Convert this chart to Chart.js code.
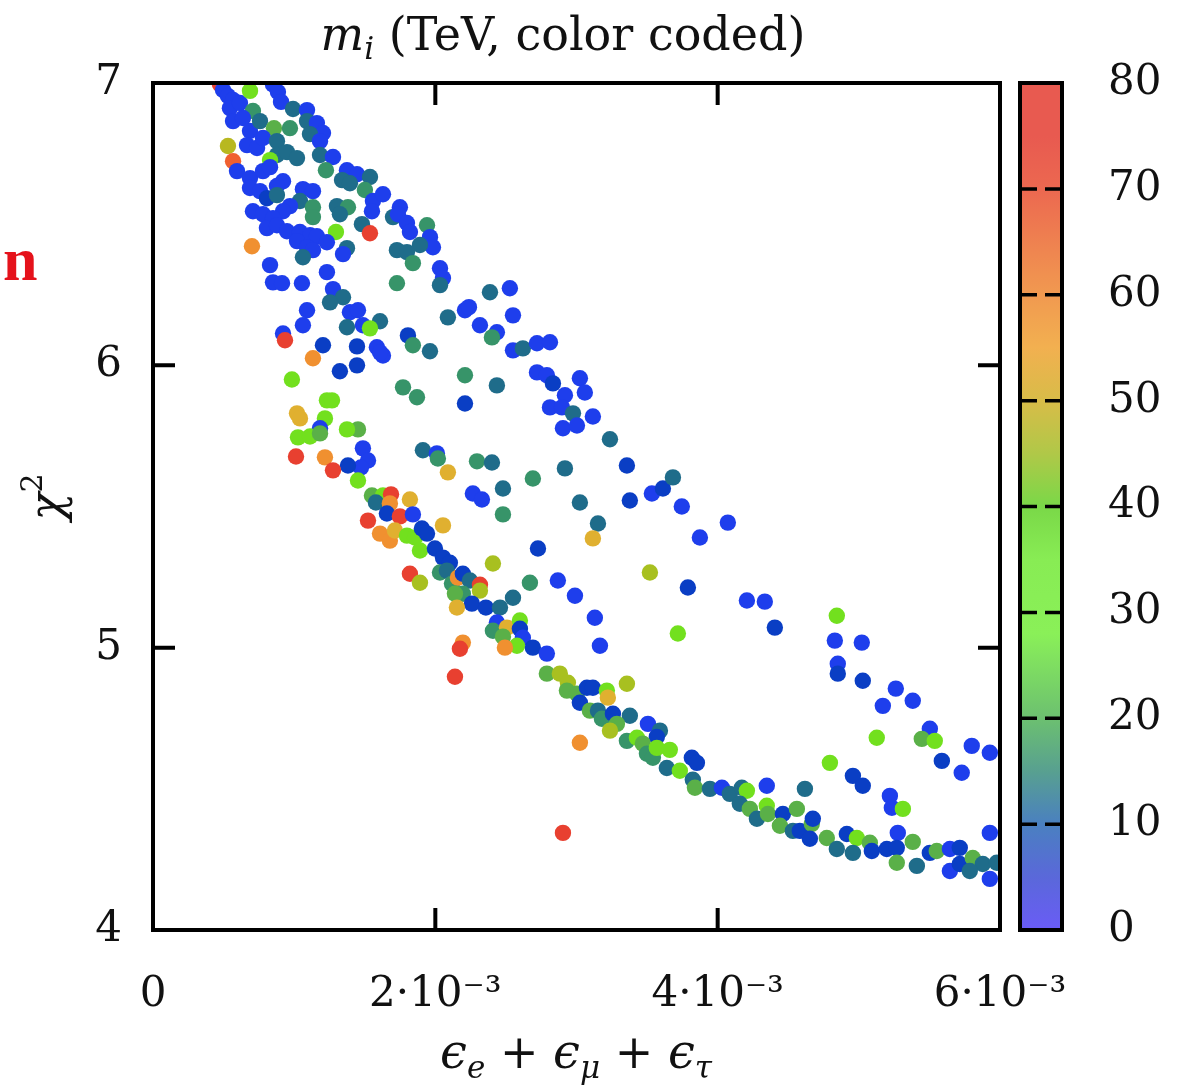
<!DOCTYPE html>
<html>
<head>
<meta charset="utf-8">
<script src="https://cdn.jsdelivr.net/npm/chart.js@4/dist/chart.umd.min.js"></script>
<style>
  html, body { margin: 0; padding: 0; background: #fff; }
</style>
</head>
<body>
<canvas id="chart" width="1178" height="1090"></canvas>
<script>
// epsilon_e + epsilon_mu + epsilon_tau, in units of 10^-3
const epsSum = [
  0.474, 0.496, 0.531, 0.567, 0.545, 0.616, 0.687, 0.850, 0.885, 0.907,
  0.708, 0.567, 0.637, 0.687, 0.758, 0.857, 0.970, 0.992, 1.091, 1.091,
  1.161, 1.204, 1.112, 0.531, 0.567, 0.666, 0.737, 0.779, 0.878, 0.878,
  0.949, 1.020, 0.829, 1.183, 1.183, 1.275, 1.225, 1.374, 1.445, 1.537,
  1.339, 1.395, 1.501, 0.595, 0.687, 0.779, 0.829, 0.921, 0.878, 0.687,
  0.758, 0.807, 0.878, 1.062, 1.133, 1.041, 1.133, 1.133, 0.970, 0.921,
  0.708, 0.779, 0.850, 1.303, 1.381, 1.324, 1.480, 1.296, 0.807, 0.878,
  0.949, 1.041, 1.112, 1.020, 1.161, 1.232, 0.701, 1.537, 1.558, 1.551,
  1.629, 1.700, 1.749, 1.735, 1.799, 1.820, 1.941, 1.962, 1.983, 1.891,
  1.728, 1.799, 1.841, 1.091, 1.133, 1.062, 1.374, 1.346, 2.033, 2.054,
  2.033, 1.728, 1.232, 0.829, 0.850, 0.914, 1.055, 1.275, 1.346, 1.254,
  1.091, 1.062, 1.395, 1.452, 1.487, 1.374, 1.608, 1.537, 0.921, 0.935,
  1.204, 1.445, 1.586, 1.629, 1.608, 1.806, 1.841, 1.962, 2.089, 1.133,
  1.324, 1.445, 0.984, 2.210, 2.238, 2.387, 2.528, 2.316, 2.436, 2.401,
  2.550, 2.550, 2.620, 2.720, 2.812, 2.210, 2.436, 1.771, 1.870, 2.210,
  2.720, 2.790, 2.833, 3.024, 3.059, 2.918, 2.812, 2.897, 2.975, 3.116,
  2.904, 3.003, 3.237, 1.452, 1.232, 1.268, 1.020, 1.041, 1.218, 1.183,
  1.027, 1.112, 1.183, 1.374, 1.487, 1.523, 1.473, 1.381, 1.452, 1.013,
  1.218, 1.275, 1.912, 2.011, 2.018, 2.089, 2.295, 2.401, 2.266, 2.330,
  2.479, 2.479, 1.551, 1.629, 1.686, 1.579, 1.678, 1.820, 1.657, 1.749,
  1.841, 1.523, 1.608, 1.678, 1.714, 1.799, 1.856, 1.891, 1.905, 1.941,
  2.054, 1.997, 2.054, 2.103, 2.033, 2.082, 2.118, 1.820, 1.891, 2.160,
  2.195, 2.245, 2.316, 2.316, 2.195, 2.139, 2.408, 2.259, 2.358, 2.458,
  2.550, 2.153, 2.670, 2.868, 2.989, 3.130, 3.166, 3.520, 3.789, 3.718,
  2.436, 2.408, 2.507, 2.599, 2.599, 2.620, 2.578, 2.479, 2.493, 2.195,
  2.174, 2.139, 2.691, 2.790, 2.790, 2.882, 2.939, 2.932, 3.003, 3.074,
  3.116, 3.215, 3.222, 3.357, 3.024, 3.095, 3.152, 3.180, 3.258, 3.378,
  3.286, 3.237, 3.024, 3.506, 3.591, 3.569, 3.357, 3.428, 3.470, 3.499,
  3.541, 3.569, 3.661, 3.640, 3.732, 3.817, 3.853, 3.824, 3.839, 2.904,
  3.945, 4.030, 4.086, 4.171, 4.207, 4.157, 4.228, 4.278, 4.348, 4.356,
  4.462, 4.441, 4.561, 4.533, 4.582, 4.667, 4.674, 4.653, 4.773, 4.915,
  4.986, 4.844, 4.958, 5.078, 5.092, 5.198, 5.276, 5.269, 5.269, 5.382,
  5.411, 5.503, 5.552, 5.645, 5.715, 5.645, 5.715, 5.807, 5.878, 5.928,
  5.786, 5.977, 4.348, 4.618, 2.691, 2.918, 3.357, 3.024, 3.152, 3.378,
  3.534, 3.612, 3.683, 3.746, 3.874, 4.072, 3.116, 2.727, 4.207, 4.334,
  4.405, 4.844, 4.830, 5.021, 4.851, 4.851, 5.028, 5.262, 5.170, 5.382,
  5.503, 5.446, 5.538, 5.127, 5.588, 5.729, 5.800, 5.928, 4.795, 4.958,
  5.028, 5.220, 5.234, 5.312, 5.928
];

// chi^2
const chiSq = [
  6.996, 6.975, 6.954, 6.940, 6.911, 6.929, 6.972, 6.995, 6.968, 6.933,
  6.901, 6.865, 6.876, 6.830, 6.865, 6.840, 6.840, 6.908, 6.904, 6.865,
  6.858, 6.823, 6.819, 6.777, 6.723, 6.780, 6.770, 6.805, 6.794, 6.745,
  6.755, 6.734, 6.727, 6.794, 6.745, 6.738, 6.691, 6.691, 6.677, 6.667,
  6.656, 6.645, 6.621, 6.688, 6.663, 6.688, 6.702, 6.652, 6.635, 6.628,
  6.617, 6.592, 6.603, 6.624, 6.617, 6.582, 6.560, 6.525, 6.564, 6.546,
  6.546, 6.535, 6.521, 6.564, 6.560, 6.535, 6.500, 6.472, 6.486, 6.496,
  6.475, 6.472, 6.461, 6.440, 6.457, 6.436, 6.422, 6.468, 6.582, 6.546,
  6.606, 6.525, 6.560, 6.535, 6.504, 6.472, 6.496, 6.454, 6.418, 6.426,
  6.408, 6.401, 6.362, 6.418, 6.408, 6.383, 6.415, 6.394, 6.344, 6.309,
  6.284, 6.291, 6.330, 6.355, 6.294, 6.291, 6.291, 6.270, 6.241, 6.223,
  6.195, 6.142, 6.188, 6.195, 6.142, 6.135, 6.156, 6.131, 6.113, 6.089,
  6.071, 6.067, 6.064, 6.035, 6.046, 6.106, 6.071, 6.050, 6.170, 6.025,
  5.979, 6.000, 5.950, 6.195, 6.206, 6.259, 6.273, 6.142, 6.117, 6.099,
  6.177, 6.053, 6.060, 6.078, 6.082, 5.965, 5.929, 5.922, 5.887, 5.865,
  5.975, 5.965, 5.936, 5.954, 5.904, 5.894, 5.851, 5.851, 5.830, 5.819,
  5.777, 5.787, 5.738, 5.773, 5.876, 5.876, 5.830, 5.812, 5.812, 5.777,
  5.745, 5.748, 5.759, 5.773, 5.706, 5.663, 5.638, 5.645, 5.592, 5.677,
  5.674, 5.628, 5.699, 5.688, 5.670, 5.621, 5.660, 5.656, 5.546, 5.525,
  5.564, 5.472, 5.539, 5.539, 5.543, 5.514, 5.511, 5.525, 5.475, 5.465,
  5.472, 5.450, 5.404, 5.379, 5.415, 5.397, 5.390, 5.344, 5.422, 5.404,
  5.433, 5.351, 5.319, 5.301, 5.266, 5.273, 5.227, 5.262, 5.230, 5.248,
  5.262, 5.238, 5.223, 5.202, 5.191, 5.191, 5.298, 5.156, 5.142, 5.142,
  5.177, 5.142, 5.230, 5.238, 5.184, 5.106, 5.007, 5.266, 5.213, 5.050,
  5.089, 5.060, 5.071, 5.096, 5.067, 5.035, 5.007, 5.039, 5.000, 5.018,
  4.996, 4.897, 5.000, 4.979, 4.908, 4.908, 4.876, 4.848, 4.837, 4.858,
  4.858, 4.848, 4.823, 4.872, 4.805, 4.777, 4.777, 4.748, 4.766, 4.759,
  4.730, 4.706, 4.663, 4.730, 4.706, 4.684, 4.670, 4.681, 4.660, 4.624,
  4.610, 4.645, 4.638, 4.574, 4.564, 4.610, 4.592, 4.532, 4.504, 4.344,
  4.500, 4.504, 4.482, 4.504, 4.493, 4.447, 4.429, 4.394, 4.440, 4.411,
  4.411, 4.369, 4.429, 4.351, 4.351, 4.376, 4.394, 4.323, 4.326, 4.340,
  4.326, 4.287, 4.273, 4.309, 4.280, 4.287, 4.344, 4.291, 4.238, 4.312,
  4.227, 4.273, 4.280, 4.287, 4.291, 4.209, 4.234, 4.255, 4.234, 4.181,
  4.209, 4.238, 4.511, 4.500, 5.599, 5.635, 5.645, 5.514, 5.440, 5.521,
  5.546, 5.564, 5.603, 5.500, 5.390, 5.443, 5.387, 5.351, 5.167, 5.163,
  5.071, 5.113, 5.025, 5.018, 4.943, 4.908, 4.883, 4.855, 4.794, 4.812,
  4.713, 4.677, 4.670, 4.681, 4.599, 4.557, 4.652, 4.628, 4.592, 4.546,
  4.511, 4.475, 4.433, 4.429, 4.344
];

// m_i in TeV (colour coded)
const massTeV = [
  74, 3, 3, 3, 3, 3, 30, 3, 3, 3,
  16, 3, 3, 3, 11, 22, 16, 11, 3, 11,
  3, 3, 11, 45, 66, 3, 3, 3, 11, 11,
  11, 11, 30, 3, 11, 3, 16, 3, 3, 11,
  11, 11, 16, 3, 3, 3, 3, 3, 3, 3,
  3, 6, 11, 3, 3, 11, 16, 16, 3, 3,
  3, 3, 3, 11, 16, 11, 11, 30, 3, 3,
  3, 3, 3, 3, 3, 3, 58, 74, 3, 3,
  3, 11, 3, 3, 3, 3, 16, 3, 3, 11,
  11, 11, 16, 3, 3, 11, 11, 3, 3, 3,
  11, 16, 3, 3, 3, 3, 3, 3, 11, 11,
  3, 3, 3, 3, 3, 11, 11, 30, 3, 74,
  6, 6, 3, 3, 3, 6, 16, 11, 11, 58,
  6, 6, 30, 3, 3, 11, 3, 3, 3, 16,
  3, 3, 11, 3, 3, 16, 11, 16, 16, 6,
  3, 3, 6, 3, 3, 3, 3, 3, 11, 3,
  3, 3, 11, 22, 30, 30, 50, 50, 30, 3,
  30, 30, 22, 30, 3, 3, 3, 6, 30, 74,
  58, 74, 11, 3, 16, 50, 16, 11, 3, 3,
  11, 16, 22, 30, 74, 11, 58, 50, 6, 74,
  3, 74, 58, 58, 50, 30, 30, 30, 6, 6,
  50, 6, 6, 6, 16, 11, 16, 74, 42, 58,
  6, 11, 74, 42, 16, 22, 42, 6, 6, 11,
  11, 50, 16, 3, 3, 3, 3, 42, 6, 30,
  3, 16, 50, 30, 6, 3, 30, 22, 58, 58,
  74, 74, 6, 3, 22, 42, 42, 22, 22, 6,
  6, 30, 50, 42, 6, 22, 11, 16, 6, 11,
  22, 42, 58, 3, 11, 6, 16, 30, 22, 16,
  16, 30, 30, 11, 30, 6, 6, 11, 22, 74,
  11, 3, 11, 11, 30, 11, 22, 11, 30, 22,
  6, 22, 22, 11, 6, 22, 6, 6, 22, 6,
  30, 11, 11, 22, 6, 6, 3, 6, 22, 22,
  11, 6, 22, 3, 6, 3, 6, 22, 11, 3,
  11, 11, 3, 11, 16, 11, 6, 11, 11, 6,
  3, 6, 11, 3, 3, 3, 50, 6, 3, 3,
  6, 30, 3, 3, 3, 6, 6, 3, 3, 3,
  3, 22, 30, 30, 6, 3, 3, 3, 30, 6,
  6, 3, 3, 30, 3
];

const xTickValues = [0, 2, 4, 6];
const yTickValues = [4, 5, 6, 7];
const massTicks = [0, 10, 20, 30, 40, 50, 60, 70, 80];

// colours of the dots, by mass
const dotStops = [
  [0, [50, 70, 250]], [3, [30, 62, 236]], [6, [10, 62, 196]],
  [11, [31, 108, 138]], [16, [55, 148, 105]], [22, [90, 176, 72]],
  [30, [114, 224, 30]], [42, [168, 192, 32]], [45, [184, 184, 32]],
  [50, [224, 176, 48]], [58, [240, 144, 48]], [66, [240, 96, 48]],
  [74, [232, 64, 48]], [80, [230, 60, 50]]
];

// colours of the colour bar (paler)
const barStops = [
  [0, '#6a5cf6'], [5, '#5a68da'], [10, '#4a80c0'], [15, '#58a090'],
  [20, '#6cc070'], [28, '#8af058'], [35, '#88ec54'], [40, '#7ad848'],
  [45, '#b0c848'], [50, '#d8bc48'], [55, '#f2b050'], [62, '#f09050'],
  [70, '#ec6850'], [75, '#e85a50'], [80, '#e85a50']
];

function massColor(m) {
  for (let i = 1; i < dotStops.length; i++) {
    if (m <= dotStops[i][0]) {
      const [m0, c0] = dotStops[i - 1];
      const [m1, c1] = dotStops[i];
      const t = (m - m0) / (m1 - m0);
      const c = c0.map((v, k) => Math.round(v + (c1[k] - v) * t));
      return `rgb(${c[0]},${c[1]},${c[2]})`;
    }
  }
  const c = dotStops[dotStops.length - 1][1];
  return `rgb(${c[0]},${c[1]},${c[2]})`;
}

const serif = '"DejaVu Serif", serif';

// draw text pieces [text, font, dy] left to right, centred on cx
function drawPieces(ctx, pieces, cx, y) {
  let total = 0;
  pieces.forEach(p => { ctx.font = p[1]; total += ctx.measureText(p[0]).width; });
  let x = cx - total / 2;
  pieces.forEach(p => {
    ctx.font = p[1];
    ctx.fillText(p[0], x, y + (p[2] || 0));
    x += ctx.measureText(p[0]).width;
  });
}

const framePlugin = {
  id: 'frame',
  afterDatasetsDraw(chart) {
    const { ctx, chartArea: a, scales } = chart;
    const xs = scales.x, ys = scales.y, cb = scales.cb;
    ctx.save();
    ctx.strokeStyle = '#000';
    ctx.lineWidth = 4;
    ctx.strokeRect(a.left, a.top, a.right - a.left, a.bottom - a.top);

    // inward ticks on all four sides
    const tl = 22;
    ctx.beginPath();
    xTickValues.slice(1, -1).forEach(v => {
      const px = xs.getPixelForValue(v);
      ctx.moveTo(px, a.bottom); ctx.lineTo(px, a.bottom - tl);
      ctx.moveTo(px, a.top); ctx.lineTo(px, a.top + tl);
    });
    yTickValues.slice(1, -1).forEach(v => {
      const py = ys.getPixelForValue(v);
      ctx.moveTo(a.left, py); ctx.lineTo(a.left + tl, py);
      ctx.moveTo(a.right, py); ctx.lineTo(a.right - tl, py);
    });
    ctx.stroke();

    // colour bar
    const cbL = a.right + 20, cbR = a.right + 62;
    const top = cb.getPixelForValue(80), bot = cb.getPixelForValue(0);
    const g = ctx.createLinearGradient(0, bot, 0, top);
    barStops.forEach(([m, c]) => g.addColorStop(m / 80, c));
    ctx.fillStyle = g;
    ctx.fillRect(cbL, top, cbR - cbL, bot - top);
    ctx.lineWidth = 4;
    ctx.strokeRect(cbL, top, cbR - cbL, bot - top);
    ctx.lineWidth = 3.5;
    ctx.beginPath();
    massTicks.slice(1, -1).forEach(v => {
      const py = cb.getPixelForValue(v);
      ctx.moveTo(cbL, py); ctx.lineTo(cbL + 17, py);
      ctx.moveTo(cbR - 17, py); ctx.lineTo(cbR, py);
    });
    ctx.stroke();

    // texts
    ctx.fillStyle = '#111';
    ctx.textBaseline = 'alphabetic';
    drawPieces(ctx, [
      ['m', `italic 46px ${serif}`],
      ['i', `italic 31px ${serif}`, 9],
      [' (TeV, color coded)', `46px ${serif}`]
    ], 563, 50);

    drawPieces(ctx, [
      ['ϵ', `italic 48px ${serif}`],
      ['e', `italic 31px ${serif}`, 10],
      [' + ', `46px ${serif}`],
      ['ϵ', `italic 48px ${serif}`],
      ['μ', `italic 31px ${serif}`, 10],
      [' + ', `46px ${serif}`],
      ['ϵ', `italic 48px ${serif}`],
      ['τ', `italic 31px ${serif}`, 10]
    ], 576, 1068);

    ctx.save();
    ctx.translate(62, 497);
    ctx.rotate(-Math.PI / 2);
    drawPieces(ctx, [
      ['χ', `italic 46px ${serif}`],
      ['2', `30px ${serif}`, -20]
    ], 0, 0);
    ctx.restore();

    ctx.fillStyle = '#e5121b';
    ctx.font = 'bold 62px "Liberation Serif", serif';
    ctx.fillText('n', 3, 280);
    ctx.restore();
  }
};

const points = epsSum.map((v, i) => ({ x: v, y: chiSq[i] }));

new Chart(document.getElementById('chart').getContext('2d'), {
  type: 'scatter',
  data: {
    datasets: [{
      data: points,
      backgroundColor: massTeV.map(massColor),
      borderWidth: 0,
      pointRadius: 8.2,
      pointHoverRadius: 8.2
    }]
  },
  options: {
    responsive: false,
    animation: false,
    devicePixelRatio: 1,
    layout: { padding: { top: 83, left: 0, right: 0, bottom: 0 } },
    plugins: { legend: { display: false }, tooltip: { enabled: false } },
    scales: {
      x: {
        type: 'linear', min: 0, max: 6,
        grid: { display: false, drawTicks: true, tickLength: 32 },
        border: { display: false },
        ticks: {
          stepSize: 2, padding: 8, color: '#111',
          font: { family: serif, size: 42 },
          maxRotation: 0,
          callback: v => v === 0 ? '0' : v + '·10⁻³'
        },
        afterFit: s => { s.height = 160; }
      },
      y: {
        type: 'linear', min: 4, max: 7,
        grid: { display: false, drawTicks: true, tickLength: 23 },
        border: { display: false },
        ticks: {
          stepSize: 1, padding: 8, color: '#111',
          font: { family: serif, size: 42 }
        },
        afterFit: s => { s.width = 153; }
      },
      cb: {
        type: 'linear', position: 'right', min: 0, max: 80,
        grid: { display: false, drawTicks: true, tickLength: 100 },
        border: { display: false },
        ticks: {
          stepSize: 10, padding: 8, color: '#111',
          font: { family: serif, size: 42 }
        },
        afterFit: s => { s.width = 178; }
      }
    }
  },
  plugins: [framePlugin]
});
</script>
</body>
</html>
